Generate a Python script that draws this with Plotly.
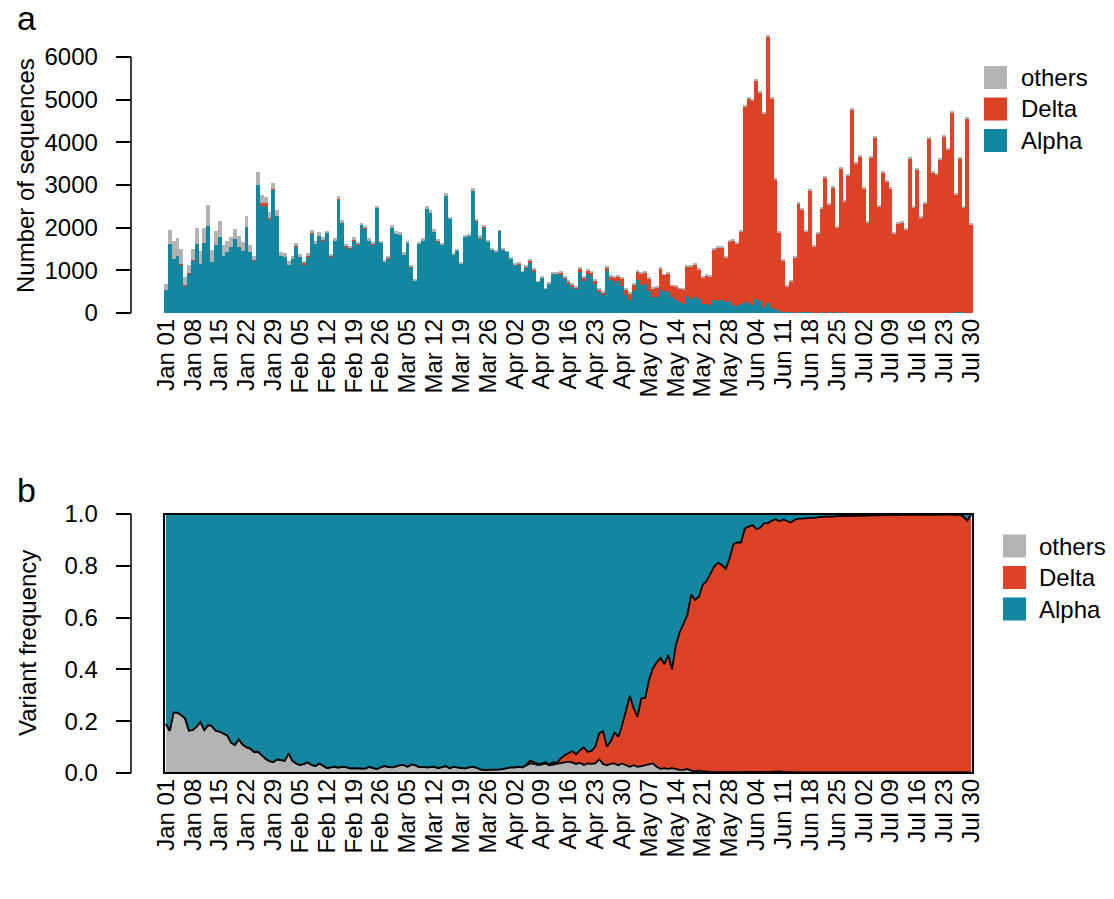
import plotly.graph_objects as go
import pandas as pd

# ---------------- data ----------------
start_date = "2021-01-01"
n_days = 211
dates = pd.date_range(start_date, periods=n_days, freq="D")

series_names = ["others", "Delta", "Alpha"]
series_colors = {"others": "#B3B3B3", "Delta": "#DC4326", "Alpha": "#12879F"}

# Panel a: daily number of sequences
alpha_n = [
    539, 1617, 1266, 1336, 1125, 648, 922, 1219, 1617, 1148,
    1641, 2039, 1195, 1594, 1781, 1336, 1430, 1547, 1734, 1547,
    1453, 2016, 1430, 1219, 3000, 2531, 2531, 2203, 2883, 2273,
    1336, 1313, 1125, 1266, 1547, 1313, 1148, 1313, 1852, 1617,
    1805, 1688, 1875, 1313, 1688, 2649, 2110, 1547, 1500, 1688,
    1594, 2063, 1969, 1688, 1594, 2461, 1641, 1195, 1266, 1992,
    1852, 1828, 1359, 1641, 1078, 750, 1617, 1688, 2438, 2344,
    1899, 1664, 1594, 2742, 2203, 1359, 1453, 1148, 1781, 1805,
    2860, 2133, 1735, 1992, 1664, 1477, 1430, 1922, 1477, 1430,
    1266, 1125, 1125, 961, 1078, 1195, 984, 727, 820, 563,
    703, 914, 914, 891, 797, 703, 609, 563, 961, 750,
    914, 867, 680, 492, 422, 984, 773, 703, 750, 633,
    422, 305, 516, 773, 656, 680, 516, 375, 375, 563,
    516, 492, 375, 305, 258, 211, 398, 328, 375, 328,
    211, 211, 188, 305, 281, 305, 258, 281, 188, 172,
    211, 258, 234, 188, 328, 281, 141, 234, 117, 94,
    47, 23, 15, 20, 10, 25, 25, 20, 25, 10,
    10, 15, 10, 20, 10, 20, 10, 15, 10, 10,
    5, 10, 5, 5, 5, 5, 5, 5, 5, 5,
    5, 5, 5, 5, 5, 5, 5, 5, 5, 5,
    5, 5, 5, 5, 5, 5, 30, 30, 5, 5, 5,
]
delta_n = [
    0, 0, 0, 0, 20, 15, 15, 25, 0, 0,
    0, 0, 0, 0, 0, 0, 0, 0, 0, 0,
    0, 0, 0, 20, 0, 40, 40, 30, 25, 0,
    0, 0, 0, 0, 25, 0, 20, 20, 20, 0,
    0, 20, 0, 20, 0, 20, 0, 20, 20, 20,
    20, 0, 20, 0, 20, 0, 0, 0, 20, 0,
    0, 0, 0, 0, 20, 0, 0, 0, 0, 0,
    0, 20, 0, 0, 0, 0, 0, 0, 0, 15,
    0, 20, 20, 47, 20, 20, 0, 0, 0, 0,
    20, 20, 20, 0, 20, 20, 20, 0, 0, 0,
    0, 0, 0, 47, 20, 20, 47, 20, 70, 70,
    70, 70, 70, 47, 70, 70, 70, 117, 94, 164,
    117, 141, 141, 188, 281, 258, 281, 188, 211, 469,
    375, 422, 258, 305, 305, 328, 703, 773, 773, 703,
    621, 668, 667, 1183, 1254, 1230, 1042, 1394, 1511, 1456,
    1699, 4582, 4793, 4792, 5121, 4887, 4535, 6246, 4910, 3035,
    1839, 1207, 611, 723, 1295, 2546, 2406, 1895, 2851, 1553,
    1858, 2439, 3171, 2528, 2936, 1989, 3382, 2603, 3218, 4765,
    3504, 3663, 2918, 2121, 3645, 4113, 2496, 3293, 3082, 2918,
    1863, 2098, 2121, 1957, 3621, 2473, 3363, 2238, 2566, 4090,
    3293, 3246, 3598, 4137, 3832, 4699, 2752, 3596, 2473, 4559, 2074,
]
others_n = [
    141, 328, 422, 422, 355, 181, 188, 256, 375, 305,
    351, 492, 282, 328, 375, 258, 258, 234, 235, 258,
    211, 257, 164, 97, 305, 195, 148, 134, 139, 141,
    94, 93, 94, 70, 69, 70, 51, 73, 73, 71,
    94, 73, 47, 50, 70, 73, 70, 50, 50, 73,
    50, 47, 50, 70, 50, 47, 47, 47, 50, 71,
    70, 71, 71, 47, 27, 47, 47, 70, 70, 70,
    70, 50, 47, 71, 47, 47, 47, 47, 47, 32,
    70, 50, 73, 24, 27, 27, 47, 23, 47, 23,
    27, 27, 50, 23, 27, 51, 51, 23, 47, 23,
    24, 47, 47, 46, 50, 50, 47, 50, 47, 47,
    47, 47, 47, 47, 24, 48, 48, 47, 47, 47,
    47, 23, 23, 47, 24, 46, 47, 46, 47, 23,
    23, 24, 23, 23, 23, 24, 24, 24, 24, 24,
    20, 20, 20, 20, 20, 20, 20, 20, 20, 20,
    20, 20, 20, 20, 20, 20, 20, 20, 20, 20,
    20, 20, 15, 15, 15, 15, 15, 15, 15, 15,
    15, 15, 15, 15, 15, 15, 15, 15, 15, 15,
    15, 15, 15, 15, 15, 15, 15, 15, 15, 15,
    15, 15, 15, 15, 15, 15, 15, 15, 15, 15,
    15, 15, 15, 15, 15, 15, 15, 15, 15, 15, 15,
]

# Panel b: variant frequency
others_f = [
    0.190, 0.163, 0.234, 0.233, 0.224, 0.211, 0.163, 0.166, 0.179, 0.197,
    0.166, 0.185, 0.181, 0.163, 0.160, 0.151, 0.145, 0.117, 0.108, 0.130,
    0.110, 0.100, 0.094, 0.081, 0.082, 0.069, 0.055, 0.046, 0.042, 0.053,
    0.050, 0.047, 0.076, 0.047, 0.037, 0.031, 0.035, 0.041, 0.031, 0.027,
    0.037, 0.027, 0.019, 0.022, 0.024, 0.021, 0.024, 0.023, 0.018, 0.019,
    0.018, 0.018, 0.017, 0.024, 0.020, 0.015, 0.022, 0.027, 0.024, 0.022,
    0.026, 0.030, 0.031, 0.024, 0.033, 0.030, 0.023, 0.024, 0.022, 0.022,
    0.024, 0.019, 0.024, 0.027, 0.018, 0.024, 0.022, 0.021, 0.018, 0.022,
    0.024, 0.021, 0.014, 0.012, 0.012, 0.014, 0.012, 0.014, 0.016, 0.019,
    0.022, 0.022, 0.024, 0.022, 0.030, 0.037, 0.035, 0.031, 0.032, 0.037,
    0.030, 0.033, 0.035, 0.037, 0.040, 0.044, 0.040, 0.035, 0.040, 0.031,
    0.037, 0.035, 0.037, 0.053, 0.035, 0.030, 0.035, 0.037, 0.030, 0.037,
    0.030, 0.024, 0.030, 0.024, 0.027, 0.030, 0.032, 0.037, 0.024, 0.016,
    0.019, 0.016, 0.019, 0.014, 0.012, 0.012, 0.016, 0.009, 0.006, 0.009,
    0.006, 0.006, 0.003, 0.003, 0.002, 0.003, 0.003, 0.002, 0.003, 0.003,
    0.003, 0.002, 0.003, 0.003, 0.002, 0.003, 0.003, 0.003, 0.004, 0.005,
    0.006, 0.004, 0.003, 0.002, 0.003, 0.002, 0.002, 0.002, 0.002, 0.002,
    0.002, 0.002, 0.002, 0.002, 0.002, 0.002, 0.002, 0.002, 0.002, 0.002,
    0.002, 0.002, 0.002, 0.002, 0.002, 0.002, 0.002, 0.002, 0.002, 0.002,
    0.002, 0.002, 0.002, 0.002, 0.002, 0.002, 0.002, 0.002, 0.002, 0.002,
    0.002, 0.002, 0.002, 0.002, 0.002, 0.002, 0.002, 0.002, 0.002, 0.002, 0.002,
]
delta_f = [0.0] * 94 + [
    0.002, 0.011, 0.005, 0.004, 0.005, 0.005, 0.003, 0.009, 0.004, 0.020,
    0.029, 0.034, 0.045, 0.037, 0.049, 0.068, 0.045, 0.050, 0.065, 0.100,
    0.127, 0.072, 0.086, 0.120, 0.110, 0.148, 0.207, 0.274, 0.220, 0.193,
    0.261, 0.260, 0.327, 0.367, 0.403, 0.429, 0.401, 0.440, 0.381, 0.480,
    0.531, 0.562, 0.594, 0.681, 0.662, 0.672, 0.720, 0.735, 0.764, 0.794,
    0.810, 0.800, 0.785, 0.826, 0.880, 0.887, 0.887, 0.942, 0.948, 0.954,
    0.940, 0.944, 0.961, 0.962, 0.970, 0.975, 0.966, 0.975, 0.970, 0.965,
    0.975, 0.980, 0.980, 0.982, 0.983, 0.983, 0.986, 0.987, 0.988, 0.987,
    0.988, 0.990, 0.990, 0.991, 0.990, 0.991, 0.992, 0.992, 0.991, 0.992,
    0.993, 0.993, 0.992, 0.993, 0.994, 0.993, 0.994, 0.994, 0.995, 0.994,
    0.995, 0.995, 0.994, 0.995, 0.995, 0.996, 0.995, 0.995, 0.996, 0.995,
    0.996, 0.996, 0.994, 0.996, 0.988, 0.972, 0.996,
]
alpha_f = [max(0.0, 1.0 - o - d) for o, d in zip(others_f, delta_f)]

counts = {"others": others_n, "Delta": delta_n, "Alpha": alpha_n}
freqs = {"others": others_f, "Delta": delta_f, "Alpha": alpha_f}

y_ticks_a = [0, 1000, 2000, 3000, 4000, 5000, 6000]
y_ticks_b = [0.0, 0.2, 0.4, 0.6, 0.8, 1.0]

# ---------------- layout helpers ----------------
W, H = 1114, 899
FONT = "Liberation Sans, Arial, Helvetica, sans-serif"
PAD = "\u00a0\u00a0"  # extra gap between tick labels and tick marks (R style)


def px(x):
    return x / W


def py(y):
    return 1 - y / H


fig = go.Figure()

# Panel a: stacked bars (Alpha bottom, Delta, others top)
for name in ["Alpha", "Delta", "others"]:
    fig.add_trace(go.Bar(
        x=dates, y=counts[name], name=name,
        marker=dict(color=series_colors[name], line=dict(width=0)),
        xaxis="x", yaxis="y", showlegend=False,
    ))

# Panel b: stacked areas (others bottom, Delta, Alpha top)
for name in ["others", "Delta", "Alpha"]:
    fig.add_trace(go.Scatter(
        x=dates, y=freqs[name], name=name, mode="lines",
        stackgroup="freq", fillcolor=series_colors[name],
        line=dict(color="black", width=1.8),
        xaxis="x2", yaxis="y2", showlegend=False,
    ))

x_range = [dates[0] - pd.Timedelta(hours=12), dates[-1] + pd.Timedelta(hours=12)]
xcommon = dict(
    type="date", range=x_range, tickmode="linear", tick0=start_date,
    dtick=7 * 86400000, tickformat="%b %d", tickangle=-90, ticks="",
    showgrid=False, zeroline=False, showline=False, automargin=False,
    tickfont=dict(family=FONT, size=24, color="black"),
)
ycommon = dict(
    anchor="free", position=px(131), side="left", ticks="outside",
    ticklen=15, tickwidth=1.5, tickcolor="black", showgrid=False,
    zeroline=False, showline=False, automargin=False,
    tickfont=dict(family=FONT, size=24, color="black"),
)

fig.update_layout(
    template="none",
    width=W, height=H, autosize=False,
    margin=dict(l=0, r=0, t=0, b=0, pad=0),
    paper_bgcolor="white", plot_bgcolor="white",
    barmode="stack", bargap=0,
    showlegend=False,
    font=dict(family=FONT, color="black"),
    xaxis=dict(domain=[px(164), px(973)], anchor="y", **xcommon),
    yaxis=dict(domain=[py(313), py(30)], range=[0, 6633],
               tickmode="array", tickvals=y_ticks_a,
               ticktext=[f"{v}{PAD}" for v in y_ticks_a], **ycommon),
    xaxis2=dict(domain=[px(164), px(973)], anchor="y2", **xcommon),
    yaxis2=dict(domain=[py(773), py(514)], range=[0, 1],
                tickmode="array", tickvals=y_ticks_b,
                ticktext=[f"{v:.1f}{PAD}" for v in y_ticks_b], **ycommon),
)

shapes = [
    dict(type="line", xref="paper", yref="y", x0=px(131), x1=px(131),
         y0=y_ticks_a[0], y1=y_ticks_a[-1], line=dict(color="black", width=1.5)),
    dict(type="line", xref="paper", yref="y2", x0=px(131), x1=px(131),
         y0=y_ticks_b[0], y1=y_ticks_b[-1], line=dict(color="black", width=1.5)),
    dict(type="rect", xref="x2 domain", yref="y2 domain", x0=0, x1=1, y0=0, y1=1,
         line=dict(color="black", width=2), layer="above"),
]
annotations = [
    dict(text="a", x=px(15), y=py(18), xref="paper", yref="paper",
         xanchor="left", yanchor="middle", showarrow=False,
         font=dict(family=FONT, size=34, color="black")),
    dict(text="b", x=px(15), y=py(490), xref="paper", yref="paper",
         xanchor="left", yanchor="middle", showarrow=False,
         font=dict(family=FONT, size=34, color="black")),
    dict(text="Number of sequences", x=px(25), y=py(176), xref="paper", yref="paper",
         xanchor="center", yanchor="middle", textangle=-90, showarrow=False,
         font=dict(family=FONT, size=24, color="black")),
    dict(text="Variant frequency", x=px(27), y=py(643), xref="paper", yref="paper",
         xanchor="center", yanchor="middle", textangle=-90, showarrow=False,
         font=dict(family=FONT, size=24, color="black")),
]

# Manual legends (one per panel)
legend_specs = [
    dict(sq_x=984, txt_x=1019, y0=77.5),
    dict(sq_x=1003, txt_x=1037, y0=546),
]
sq = 23
step = 31.5
for spec in legend_specs:
    for k, name in enumerate(series_names):
        cy = spec["y0"] + k * step
        shapes.append(dict(
            type="rect", xref="paper", yref="paper",
            x0=px(spec["sq_x"]), x1=px(spec["sq_x"] + sq),
            y0=py(cy + sq / 2), y1=py(cy - sq / 2),
            fillcolor=series_colors[name], line=dict(width=0),
        ))
        annotations.append(dict(
            text=name, x=px(spec["txt_x"]), y=py(cy), xref="paper", yref="paper",
            xanchor="left", yanchor="middle", showarrow=False,
            font=dict(family=FONT, size=24, color="black"),
        ))

fig.update_layout(shapes=shapes, annotations=annotations)

fig.write_html("out.html")
